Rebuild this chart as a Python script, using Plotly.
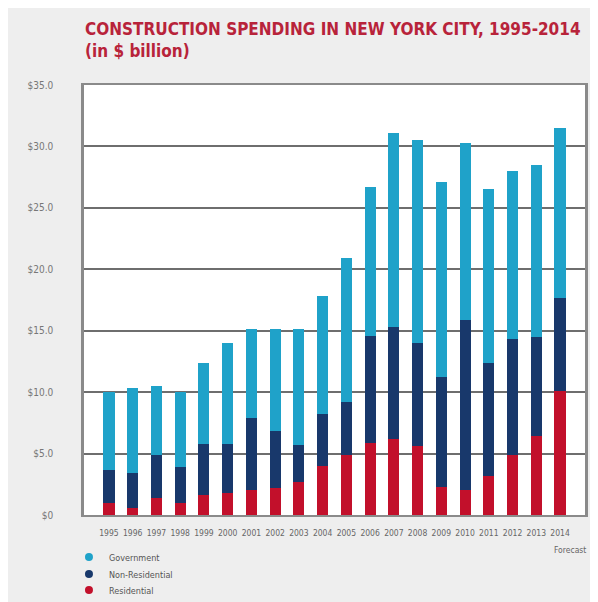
import plotly.graph_objects as go

years = ["1995", "1996", "1997", "1998", "1999", "2000", "2001", "2002", "2003", "2004",
         "2005", "2006", "2007", "2008", "2009", "2010", "2011", "2012", "2013", "2014"]
residential = [1.0, 0.6, 1.4, 1.0, 1.6, 1.8, 2.0, 2.2, 2.7, 4.0,
               4.9, 5.9, 6.2, 5.6, 2.3, 2.0, 3.2, 4.9, 6.4, 10.1]
non_residential = [2.7, 2.8, 3.5, 2.9, 4.2, 4.0, 5.9, 4.6, 3.0, 4.2,
                   4.3, 8.7, 9.1, 8.4, 8.9, 13.9, 9.2, 9.4, 8.1, 7.6]
government = [6.3, 6.9, 5.6, 6.1, 6.6, 8.2, 7.2, 8.3, 9.4, 9.6,
              11.7, 12.1, 15.8, 16.5, 15.9, 14.4, 14.1, 13.7, 14.0, 13.8]
y_ticks = [0, 5, 10, 15, 20, 25, 30, 35]
y_tick_labels = ["$0", "$5.0", "$10.0", "$15.0", "$20.0", "$25.0", "$30.0", "$35.0"]

C_GOV = "#1fa2c9"
C_NON = "#18386b"
C_RES = "#c2102b"
FONT = "'DejaVu Sans Condensed', 'Liberation Sans Narrow', Roboto, sans-serif"

PLOT_BOTTOM = 515  # screen px of the $0 line in the reference
PLOT_H = 430

fig = go.Figure()
for name, vals, col in [("Residential", residential, C_RES),
                        ("Non-Residential", non_residential, C_NON),
                        ("Government", government, C_GOV)]:
    fig.add_trace(go.Bar(x=years, y=vals, name=name, marker=dict(color=col, line=dict(width=0)),
                         width=0.47, showlegend=False))

legend_rows = [("Government", C_GOV, "legend", 557),
               ("Non-Residential", C_NON, "legend2", 574),
               ("Residential", C_RES, "legend3", 590)]
legend_layouts = {}
for name, col, lg, py in legend_rows:
    fig.add_trace(go.Scatter(x=[None], y=[None], mode="markers", name=name, legend=lg,
                             marker=dict(color=col, size=8, symbol="circle")))
    legend_layouts[lg] = dict(x=-0.03, xanchor="left", y=(PLOT_BOTTOM - py) / PLOT_H,
                              yanchor="middle",
                              font=dict(family=FONT, size=9, color="#555555"),
                              bgcolor="rgba(0,0,0,0)", itemwidth=30, borderwidth=0)

fig.update_layout(
    barmode="stack",
    width=598, height=602,
    margin=dict(l=76, r=21, t=77, b=95, autoexpand=False),
    paper_bgcolor="#eeeeee",
    plot_bgcolor="#ffffff",
    title=dict(text="<b>CONSTRUCTION SPENDING IN NEW YORK CITY, 1995-2014<br>(in $ billion)</b>",
               font=dict(family=FONT, size=17, color="#b8233a"),
               x=77/598, xanchor="left", xref="container",
               y=1-27/602, yanchor="top", yref="container"),
    font=dict(family=FONT),
    **legend_layouts,
)
fig.update_xaxes(type="category", range=[-1.05, 20.05], showgrid=False,
                 tickfont=dict(family=FONT, size=8.5, color="#666666"),
                 showline=True, linecolor="#8a8a8a", linewidth=2, mirror=True,
                 ticks="", ticklabelstandoff=9)
fig.update_yaxes(range=[0, 35], tickvals=y_ticks, ticktext=y_tick_labels,
                 showgrid=True, gridcolor="#6e6e6e", gridwidth=1.5,
                 tickfont=dict(family=FONT, size=10, color="#777777"),
                 showline=True, linecolor="#8a8a8a", linewidth=2.5, mirror=True,
                 zeroline=False, ticks="", ticklabelstandoff=26)
fig.add_annotation(text="Forecast", x=1.0, xref="paper", xanchor="right", xshift=3,
                   y=(PLOT_BOTTOM - 550) / PLOT_H, yref="paper", yanchor="middle",
                   showarrow=False,
                   font=dict(family=FONT, size=8.5, color="#666666"))

fig.write_html("out.html")
